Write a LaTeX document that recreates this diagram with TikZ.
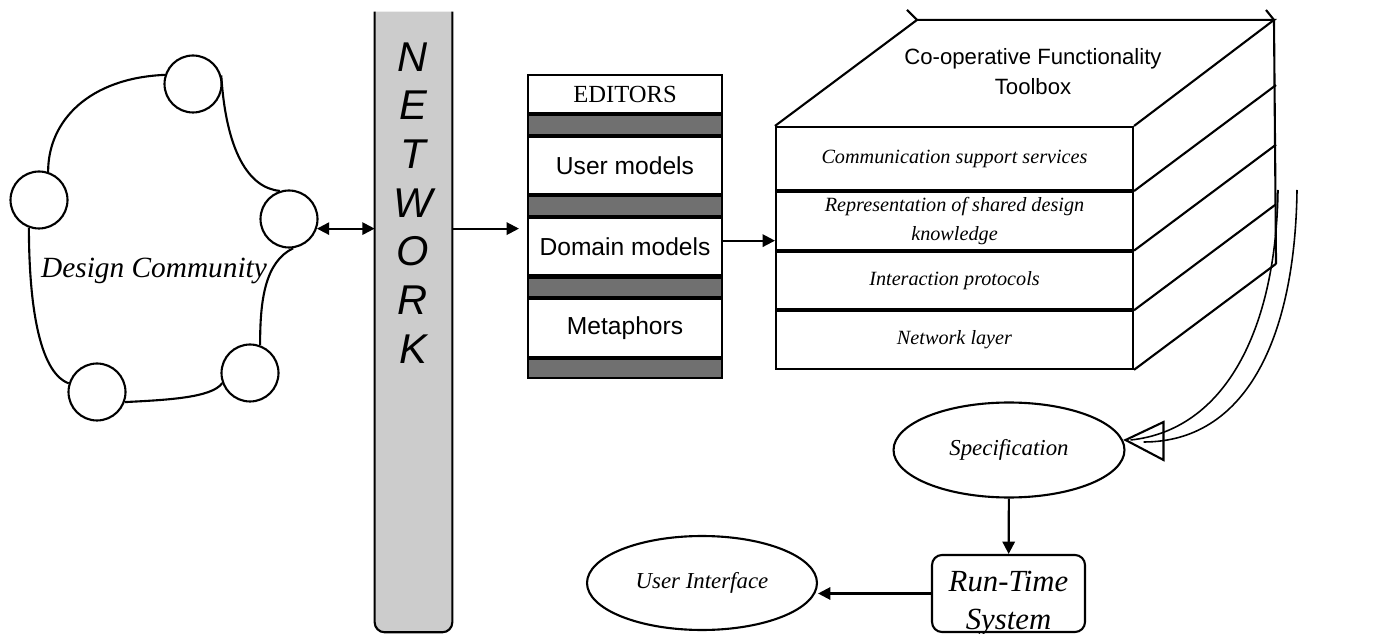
\documentclass[tikz,border=0pt]{standalone}
\usepackage{fontspec}
\setmainfont{Liberation Serif}
\setsansfont{Liberation Sans}
\usetikzlibrary{arrows.meta, positioning, shapes.geometric}
\definecolor{netgray}{RGB}{204,204,204}
\definecolor{bargray}{RGB}{112,112,112}

\begin{document}
\begin{tikzpicture}[x=0.02cm, y=-0.02cm,
  heavy/.style={line width=1.2pt},
  twin/.style={line width=0.9pt},
  arr/.style={line width=1.2pt, -{Triangle[length=7pt, width=7pt]}},
  dbl/.style={line width=1.2pt, {Triangle[length=7pt, width=7pt]}-{Triangle[length=7pt, width=7pt]}},
  member/.style={circle, draw, line width=1.2pt, minimum size=1.14cm, inner sep=0pt},
  netletter/.style={font=\sffamily\itshape\fontsize{23.7}{24}\selectfont, inner sep=0pt},
  edrow/.style={rectangle, draw, line width=1.2pt, minimum width=3.88cm, minimum height=1.15cm,
                inner sep=0pt, font=\sffamily\fontsize{14}{16}\selectfont},
  edgap/.style={rectangle, draw, line width=1.2pt, fill=bargray, minimum width=3.88cm,
                minimum height=0.39cm, inner sep=0pt},
  tblayer/.style={rectangle, draw, line width=1.2pt, minimum width=7.14cm, minimum height=1.15cm,
                  inner sep=0pt, align=center, font=\itshape\fontsize{11.5}{16.4}\selectfont},
  bubble/.style={ellipse, draw, line width=1.2pt, minimum width=4.62cm, minimum height=1.9cm,
                 inner sep=0pt, font=\itshape\fontsize{13}{15}\selectfont},
  node distance=0pt
]
  \useasboundingbox (0,0) rectangle (1382,634);

  \node[member] (ctop) at (193,84) {};
  \node[member] (cleft) at (39,200) {};
  \node[member] (cright) at (289,219) {};
  \node[member] (cbr) at (250,373) {};
  \node[member] (cbl) at (97,392) {};
  \node[font=\itshape\fontsize{16.7}{18}\selectfont] (dc) at (154,271) {Design Community};

  \draw[heavy] (ctop.162) .. controls (90,78) and (48,120) .. (cleft.72);
  \draw[heavy] (ctop.17) .. controls (226,150) and (248,188) .. (cright.108);
  \draw[heavy] (cright.278) .. controls (265,262) and (260,300) .. (cbr.70);
  \draw[heavy] (cbr.200) .. controls (212,398) and (165,400) .. (cbl.340);
  \draw[heavy] (cbl.163) .. controls (38,372) and (29,300) .. (cleft.250);

  \node[minimum width=1.54cm, minimum height=12.4cm, inner sep=0pt] (net) at (413.5,322) {};
  \filldraw[fill=netgray, heavy] (net.north west) -- ([yshift=0.2cm]net.south west)
    arc[start angle=180, end angle=270, radius=0.2cm] -- ([xshift=-0.2cm]net.south east)
    arc[start angle=270, end angle=360, radius=0.2cm] -- (net.north east);
  \foreach \l [count=\i] in {N,E,T,W,O,R,K}
    \node[netletter] (n\i) at (413, 8+48.7*\i) {\l};

  \node[edrow, minimum height=0.76cm, font=\fontsize{14}{16}\selectfont] (ed) at (625,94) {EDITORS};
  \node[edgap, below=of ed] (g1) {};
  \node[edrow, below=of g1] (um) {User models};
  \node[edgap, below=of um] (g2) {};
  \node[edrow, below=of g2] (dm) {Domain models};
  \node[edgap, below=of dm] (g3) {};
  \node[edrow, below=of g3] (mp) {Metaphors};
  \node[edgap, below=of mp] (g4) {};

  \node[tblayer, minimum height=1.26cm] (l1) at (954.5,158.5) {Communication support services};
  \node[tblayer, below=of l1] (l2) {Representation of shared design\\knowledge};
  \node[tblayer, below=of l2] (l3) {Interaction protocols};
  \node[tblayer, below=of l3] (l4) {Network layer};
  \draw[heavy] (l1.north west) -- ++(142,-106) coordinate (bl) -- ++(357,0) coordinate (br) -- (l1.north east);
  \draw[heavy] (br) -- ([shift={(142,-106)}]l4.south east);
  \foreach \n in {l1,l2,l3,l4}
    \draw[heavy] (\n.south east) -- ++(142,-106);
  \draw[heavy] (bl) -- ++(-10,-10);
  \draw[heavy] (br) -- ++(-8,-10);
  \node[font=\sffamily\fontsize{12.6}{17}\selectfont, align=center] (tbt) at (1033,72)
    {Co-operative Functionality\\Toolbox};

  \node[bubble] (spec) at (1009,450) {Specification};
  \node[bubble, minimum width=4.6cm, minimum height=1.88cm] (ui) at (702,583) {User Interface};
  \node[draw, heavy, rounded corners=0.2cm, minimum width=3.06cm, minimum height=1.54cm,
        inner sep=0pt] (rts) at (1008.5,593.5) {};
  \node[align=center, inner sep=0pt, font=\itshape\fontsize{17.5}{21.5}\selectfont]
        (rtst) at ([yshift=-0.2cm]rts.center) {Run-Time\\System};

  \draw[dbl] (cright.-19) -- (cright.-19 -| net.west);
  \draw[arr, shorten >=0.16cm] (cright.-19 -| net.east) -- (cright.-19 -| dm.west);
  \draw[arr] ([yshift=0.12cm]dm.east) -- ([yshift=0.12cm]dm.east -| l2.west);
  \draw[arr] (spec) -- (rts);
  \draw[arr] (rts.west) -- (rts.west -| ui.east);

  \coordinate (hin) at (1278,190);
  \coordinate (hout) at (1297,190);
  \coordinate (tip) at ([yshift=0.2cm]spec.east);
  \draw[twin] (hin) .. controls (1276,330) and (1225,430) .. ([xshift=0.1cm]tip);
  \draw[twin] (hout) .. controls (1295,340) and (1245,442) .. ([shift={(18,2)}]tip);
  \draw[heavy] (tip) -- ++(38,-18) -- ++(0,38) -- cycle;
\end{tikzpicture}
\end{document}
